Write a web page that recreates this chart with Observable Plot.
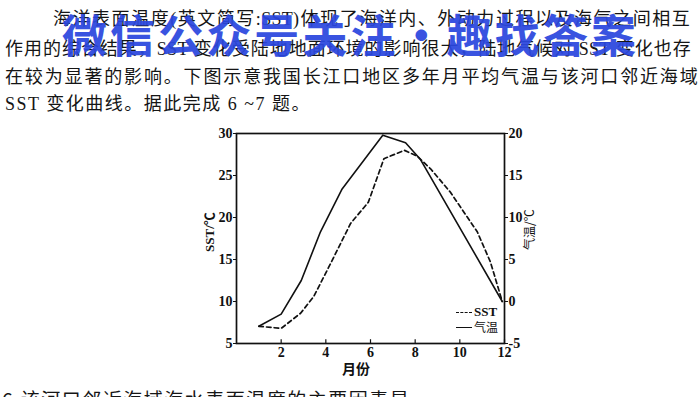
<!DOCTYPE html>
<html>
<head>
<meta charset="utf-8">
<script src="https://cdn.jsdelivr.net/npm/d3@7"></script>
<script src="https://cdn.jsdelivr.net/npm/@observablehq/plot@0.6"></script>
<style>
  html, body { margin: 0; padding: 0; background: #fff; }
  #page { position: relative; width: 700px; height: 397px; overflow: hidden; background: #fff; color: #151515; }
  .ln { position: absolute; height: 22px; line-height: 22px; font-family: "Liberation Serif", "Noto Sans CJK SC", serif; font-size: 18px; white-space: nowrap; letter-spacing: 1.5px; }
  .just { text-align: justify; text-align-last: justify; letter-spacing: 0.3px; }
  #wm { position: absolute; left: 62px; top: 8px; width: 574px; height: 52px; line-height: 52px; font-family: "Noto Sans CJK SC", sans-serif; font-weight: 700; font-size: 45px; color: #2b47de; opacity: 0.93; white-space: nowrap; text-align: justify; text-align-last: justify; }
  #plot { position: absolute; left: 0; top: 0; }
  .lab { position: absolute; font-family: "Noto Sans CJK SC", sans-serif; color: #111; white-space: nowrap; }
  .ser { font-family: "Liberation Serif", "Noto Sans CJK SC", serif; font-weight: 700; }
</style>
</head>
<body>
<div id="page">
  <div class="ln just" style="left:53px; top:8px; width:637px;">海洋表面温度(英文简写:SST)体现了海洋内、外动力过程以及海气之间相互</div>
  <div class="ln just" style="left:5px; top:38px; width:686px;">作用的综合结果，SST 变化受陆地地面环境的影响很大，陆地气候对 SST 变化也存</div>
  <div class="ln just" style="left:5px; top:66px; width:693px;">在较为显著的影响。下图示意我国长江口地区多年月平均气温与该河口邻近海域</div>
  <div class="ln" style="left:5px; top:93px;">SST 变化曲线。据此完成 6 ~7 题。</div>
  <div id="wm">微信公众号关注・趣找答案</div>
  <div id="plot"></div>
  <div class="lab ser" style="left:192px; top:226px; width:36px; text-align:center; font-size:13px; transform:rotate(-90deg); transform-origin:50% 50%; line-height:16px;">SST/℃</div>
  <div class="lab" style="left:509px; top:222px; width:40px; text-align:center; font-size:12px; transform:rotate(-90deg); transform-origin:50% 50%; line-height:16px;">气温/℃</div>
  <div class="lab" style="left:342px; top:360px; font-size:14px; font-weight:700; line-height:16px;">月份</div>
  <div style="position:absolute; left:456px; top:312px; width:16px; border-top:1.6px dashed #111;"></div>
  <div class="lab ser" style="left:474px; top:304px; font-size:13px; line-height:16px;">SST</div>
  <div style="position:absolute; left:456px; top:327px; width:16px; border-top:1.6px solid #111;"></div>
  <div class="lab" style="left:474px; top:319px; font-size:12px; line-height:16px;">气温</div>
  <div class="ln" style="left:2px; top:388px; font-size:19px; font-family:'Noto Sans CJK SC', sans-serif;">6.该河口邻近海域海水表面温度的主要因素是</div>
</div>
<script>
// Months and values
const sstMonths = [1, 2, 2.87, 3.46, 4.21, 5.11, 5.9, 6.6, 7.52, 8.09, 8.69, 9.58, 10.78, 11.37, 11.9];
const sstValues = [7.05, 6.8, 8.6, 10.6, 14.5, 19.3, 21.8, 27.0, 28.0, 27.3, 25.8, 23.0, 18.3, 14.7, 10.0];

const airMonths = [1, 2, 2.9, 3.76, 4.73, 6.55, 7.57, 8.24, 11.9];
const airValues = [-2.95, -1.5, 2.5, 8.3, 13.4, 19.8, 18.9, 16.9, 0.0];

const xTicks = [2, 4, 6, 8, 10, 12];
const leftTicks = [5, 10, 15, 20, 25, 30];
const rightTicks = [-5, 0, 5, 10, 15, 20];
const rightOffset = 10; // right axis (气温) = left axis (SST) - 10

const sst = sstMonths.map((m, i) => ({m, v: sstValues[i]}));
const air = airMonths.map((m, i) => ({m, v: airValues[i]}));

const chart = Plot.plot({
  width: 700,
  height: 397,
  marginLeft: 236,
  marginRight: 196,
  marginTop: 133,
  marginBottom: 54,
  x: {domain: [0, 12]},
  y: {domain: [5, 30]},
  style: {background: "transparent", fontFamily: "Liberation Serif", fontSize: "14px", color: "#111"},
  marks: [
    Plot.axisY(leftTicks, {anchor: "left", tickSize: 3, tickPadding: 1, label: null, fontWeight: "bold", fontSize: 14}),
    Plot.axisY(rightTicks.map(d => d + rightOffset), {anchor: "right", tickSize: 3, tickPadding: 1, label: null, fontWeight: "bold", fontSize: 14, tickFormat: d => String(d - rightOffset)}),
    Plot.axisX(xTicks, {anchor: "bottom", tickSize: 0, tickPadding: 4, label: null, fontWeight: "bold", fontSize: 14}),
    Plot.ruleX(xTicks, {y1: 5, y2: 5.45, stroke: "#111", strokeWidth: 1.2}),
    Plot.frame({stroke: "#111", strokeWidth: 1.7}),
    Plot.line(sst, {x: "m", y: "v", stroke: "#111", strokeWidth: 1.7, strokeDasharray: "4.5,3.2"}),
    Plot.line(air, {x: "m", y: d => d.v + rightOffset, stroke: "#111", strokeWidth: 1.6})
  ]
});
document.getElementById("plot").appendChild(chart);
</script>
</body>
</html>
